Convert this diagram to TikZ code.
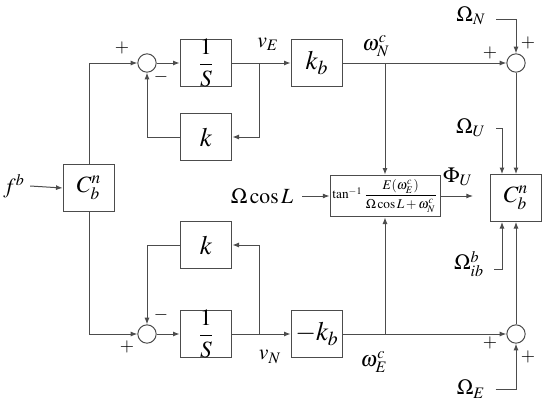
\documentclass[tikz,border=0pt]{standalone}
\usepackage{amsmath}
\usepackage{mathptmx}
\usepackage{fontspec}
\setmainfont{Liberation Serif}
\usepackage{tikz}
\usetikzlibrary{arrows.meta,positioning,calc}

\begin{document}
\begin{tikzpicture}[
    x=0.6pt, y=-0.6pt,
    line width=0.6pt, draw=black!70,
    blk/.style={draw, minimum width=31pt, minimum height=28pt, inner sep=0pt, font=\fontsize{14}{16}\selectfont},
    sum/.style={draw, circle, minimum size=11pt, inner sep=0pt},
    lbl/.style={inner sep=0pt, font=\fontsize{13}{15}\selectfont},
    sgn/.style={inner sep=0pt, font=\fontsize{11}{12}\selectfont},
    arr/.style={-{Latex[length=4pt,width=3pt]}}
]
\useasboundingbox (0,0) rectangle (550,403);

\node[blk] (cin) at (89,188) {$C_b^n$};
\node[lbl] (fb) at (14,186) {$f^b$};

\node[sum] (sumA) at (147,63) {};
\node[blk] (intA) at (206,63) {$\dfrac{1}{S}$};
\node[blk, font=\fontsize{16}{18}\selectfont] (gainA) at (206,137) {$k$};
\node[blk, font=\fontsize{16}{18}\selectfont] (kbA) at (317,63) {$k_b$};
\node[sum] (sumN) at (516,63) {};

\node[sum] (sumB) at (147,334) {};
\node[blk] (intB) at (206,334) {$\dfrac{1}{S}$};
\node[blk, font=\fontsize{16}{18}\selectfont] (gainB) at (206,245) {$k$};
\node[blk, font=\fontsize{16}{18}\selectfont] (kbB) at (317,334) {$-k_b$};
\node[sum] (sumE) at (516,334) {};

\node[draw, minimum width=66pt, minimum height=25pt, inner sep=1pt, font=\fontsize{8}{9.5}\selectfont] (tan) at (385,196)
    {$\tan^{-1}\dfrac{E(\omega_E^c)}{\Omega\cos L+\omega_N^c}$};
\node[lbl] (wcos) at (262,196) {$\Omega\cos L$};
\node[blk] (cout) at (516,198) {$C_b^n$};
\coordinate (phiend) at (473,196);

\node[lbl] (vE) at (268,44) {$v_E$};
\node[lbl] (wNl) at (376,46) {$\omega_N^c$};
\node[lbl] (vN) at (270,357) {$v_N$};
\node[lbl] (wEl) at (374,362) {$\omega_E^c$};
\node[lbl] (phi) at (458,177) {$\Phi_U$};
\node[lbl] (oN) at (471,16) {$\Omega_N$};
\node[lbl] (oU) at (471,128) {$\Omega_U$};
\node[lbl] (oib) at (469,264) {$\Omega_{ib}^b$};
\node[lbl] (oE) at (471,389) {$\Omega_E$};

\node[sgn] (pA) at (122,48) {$+$};
\node[sgn] (mA) at (161,77) {$-$};
\node[sgn] (pB) at (127,347) {$+$};
\node[sgn] (mB) at (161,315) {$-$};
\node[sgn] (pN1) at (490,53) {$+$};
\node[sgn] (pN2) at (528,43) {$+$};
\node[sgn] (pE1) at (490,343) {$+$};
\node[sgn] (pE2) at (528,357) {$+$};

\coordinate (bA) at (259,63);
\coordinate (bB) at (259,334);
\coordinate (wN) at (385,63);
\coordinate (wE) at (385,334);

\draw[arr] ([xshift=3pt]fb.east) -- (cin.west);
\draw[arr] (cin.north) |- (sumA.west);
\draw[arr] (cin.south) |- (sumB.west);

\draw[arr] (sumA) -- (intA);
\draw[arr] (intA) -- (kbA);
\draw[arr] (bA) |- (gainA.east);
\draw[arr] (gainA.west) -| (sumA.south);
\draw[arr] (kbA) -- (sumN);
\draw[arr] (wN) -- (tan.north);

\draw[arr] (sumB) -- (intB);
\draw[arr] (intB) -- (kbB);
\draw[arr] (bB) |- (gainB.east);
\draw[arr] (gainB.west) -| (sumB.north);
\draw[arr] (kbB) -- (sumE);
\draw[arr] (wE) -- (tan.south);

\draw[arr] ([xshift=5pt]wcos.east) -- (tan.west);
\draw[arr] (tan.east) -- (phiend);

\draw[arr] ([xshift=6pt,yshift=-2pt]oN.east) -| (sumN.north);
\draw[arr] ([xshift=6pt]oE.east) -| (sumE.south);
\draw[arr] (sumN) -- (cout.north);
\draw[arr] (sumE) -- (cout.south);
\draw[arr] ([xshift=6pt]oU.east) -| ([xshift=-8.4pt]cout.north);
\draw[arr] ([xshift=6pt,yshift=-3pt]oib.east) -| ([xshift=-8.4pt]cout.south);
\end{tikzpicture}
\end{document}
